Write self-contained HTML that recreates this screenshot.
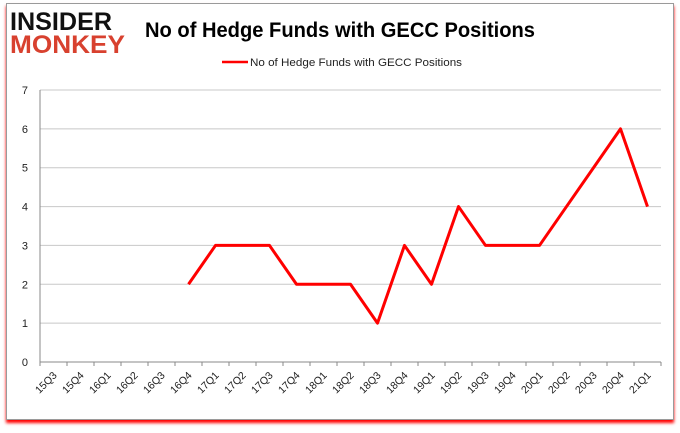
<!DOCTYPE html>
<html><head><meta charset="utf-8"><style>
body{margin:0;background:#fff;width:680px;height:433px;overflow:hidden;font-family:"Liberation Sans",sans-serif}
#frame{position:absolute;left:6px;top:3px;width:666px;height:415px;border:1px solid #9a9a9a;box-shadow:0 3px 3px #f00;background:#fff}
</style></head><body>
<div id="frame"></div>
<svg width="680" height="433" style="position:absolute;left:0;top:0" id="chart">
<text x="10" y="30" font-size="25" font-weight="bold" fill="#111" textLength="102" lengthAdjust="spacingAndGlyphs">INSIDER</text>
<text x="10" y="53" font-size="25" font-weight="bold" fill="#d8412f" textLength="115" lengthAdjust="spacingAndGlyphs">MONKEY</text>
<text x="145" y="37" font-size="21" font-weight="bold" fill="#000" textLength="390" lengthAdjust="spacingAndGlyphs">No of Hedge Funds with GECC Positions</text>
<line x1="222" y1="62" x2="248" y2="62" stroke="#f00" stroke-width="2.5"/>
<text x="250" y="66" font-size="11" fill="#222" textLength="212" lengthAdjust="spacingAndGlyphs">No of Hedge Funds with GECC Positions</text>
<g id="grid"></g><g id="axes"></g><g id="series"></g>
</svg>
<script>
const categories=["15Q3","15Q4","16Q1","16Q2","16Q3","16Q4","17Q1","17Q2","17Q3","17Q4","18Q1","18Q2","18Q3","18Q4","19Q1","19Q2","19Q3","19Q4","20Q1","20Q2","20Q3","20Q4","21Q1"];
const values=[null,null,null,null,null,2,3,3,3,2,2,2,1,3,2,4,3,3,3,4,5,6,4];
const yTicks=[0,1,2,3,4,5,6,7];
const NS="http://www.w3.org/2000/svg";
const L=40,R=661,T=90,B=362,yMax=7;
const bw=(R-L)/categories.length;
const xPos=i=>L+(i+0.5)*bw;
const yPos=v=>B-(v/yMax)*(B-T);
function mk(tag,attrs,parent){const e=document.createElementNS(NS,tag);for(const k in attrs)e.setAttribute(k,attrs[k]);document.getElementById(parent).appendChild(e);return e;}
yTicks.forEach(t=>{
 if(t>0){const g=mk('line',{x1:L,x2:R,y1:yPos(t),y2:yPos(t),stroke:'#c8c8c8','stroke-width':1},'grid');
 
 }
 const tx=mk('text',{x:L-12,y:yPos(t)+4,'font-size':11,'text-anchor':'end',fill:'#222'},'axes');
 tx.textContent=t;
 
 
});
let a=mk('line',{x1:L,x2:L,y1:T,y2:B,stroke:'#888'},'axes');


a=mk('line',{x1:L,x2:R,y1:B,y2:B,stroke:'#888'},'axes');


for(let i=0;i<=categories.length;i++){const tk=mk('line',{x1:L+i*bw,x2:L+i*bw,y1:B,y2:B+4,stroke:'#888'},'axes');
 
 }
categories.forEach((c,i)=>{const x=xPos(i)+4,y=B+14;
 const tx=mk('text',{x:x,y:y,'font-size':10.5,'text-anchor':'end',fill:'#222',transform:`rotate(-45 ${x} ${y})`},'axes');
 tx.textContent=c;
 
 });
let d='';values.forEach((v,i)=>{if(v==null)return;d+=(d?'L':'M')+xPos(i)+','+yPos(v);});
const p=mk('path',{d:d,fill:'none',stroke:'#f00','stroke-width':3,'stroke-linejoin':'round'},'series');


</script>
</body></html>
